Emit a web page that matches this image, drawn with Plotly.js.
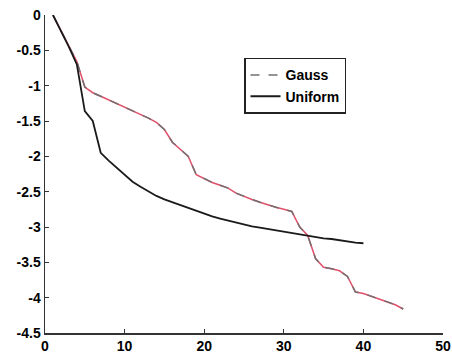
<!DOCTYPE html>
<html><head><meta charset="utf-8">
<script src="https://cdn.plot.ly/plotly-3.0.1.min.js"></script>
<style>body{margin:0;background:#fff}#c{width:452px;height:353px}</style>
</head><body><div id="c"></div>
<script>
const gaussX = [1,2,3,4,5,6,7,8,9,10,11,12,13,14,15,16,17,18,19,20,21,22,23,24,25,26,27,28,29,30,31,32,33,34,35,36,37,38,39,40,41,42,43,44,45];
const gaussY = [0,-0.22,-0.45,-0.66,-1.02,-1.10,-1.15,-1.20,-1.25,-1.30,-1.36,-1.41,-1.46,-1.52,-1.62,-1.80,-1.90,-2.00,-2.26,-2.32,-2.37,-2.41,-2.45,-2.52,-2.57,-2.61,-2.65,-2.69,-2.72,-2.75,-2.78,-3.00,-3.12,-3.45,-3.57,-3.59,-3.62,-3.70,-3.92,-3.94,-3.98,-4.02,-4.05,-4.10,-4.16];
const uniformX = [1,2,3,4,5,6,7,8,9,10,11,12,13,14,15,16,17,18,19,20,21,22,23,24,25,26,27,28,29,30,31,32,33,34,35,36,37,38,39,40];
const uniformY = [0,-0.22,-0.45,-0.70,-1.36,-1.50,-1.95,-2.06,-2.16,-2.26,-2.36,-2.43,-2.50,-2.56,-2.61,-2.65,-2.70,-2.74,-2.78,-2.81,-2.85,-2.88,-2.91,-2.94,-2.96,-2.99,-3.01,-3.03,-3.05,-3.07,-3.09,-3.11,-3.13,-3.15,-3.16,-3.17,-3.19,-3.20,-3.22,-3.23];
const xTicks = [0,10,20,30,40,50];
const yTicks = [0,-0.5,-1,-1.5,-2,-2.5,-3,-3.5,-4,-4.5];
const seriesNames = ['Gauss','Uniform'];

const traces = [
  {x: gaussX, y: gaussY, mode:'lines', line:{color:'#e0506a', width:1.5}, showlegend:false, hoverinfo:'skip'},
  {x: gaussX, y: gaussY, mode:'lines', name:'<b>'+seriesNames[0]+'</b>', line:{color:'#707070', width:1.5, dash:'dash'}},
  {x: uniformX, y: uniformY, mode:'lines', name:'<b>'+seriesNames[1]+'</b>', line:{color:'#1a1a1a', width:1.8}}
];
const tf = {family:'Liberation Sans, Arial, sans-serif', size:14, color:'#000', weight:700};
const layout = {
  width:452, height:353,
  margin:{l:45, r:9, t:15, b:20},
  paper_bgcolor:'#fff', plot_bgcolor:'#fff',
  xaxis:{range:[0,50], tickvals:xTicks, ticktext:xTicks.map(v=>'<b>'+v+'</b>'), ticks:'inside', ticklen:4, tickcolor:'#333',
    showline:true, linecolor:'#333', linewidth:1.5, mirror:false, showgrid:false, zeroline:false, tickfont:tf,
    ticklabeloverflow:'allow'},
  yaxis:{range:[-4.5,0], tickvals:yTicks, ticktext:yTicks.map(v=>'<b>'+v+'</b>'), ticks:'inside', ticklen:4, tickcolor:'#333',
    showline:true, linecolor:'#333', linewidth:1.5, mirror:false, showgrid:false, zeroline:false, tickfont:tf,
    ticklabeloverflow:'allow'},
  legend:{x:0.5, y:0.865, xanchor:'left', yanchor:'top', bordercolor:'#222', borderwidth:1.5, bgcolor:'#fff',
    font:{family:'Liberation Sans, Arial, sans-serif', size:14, color:'#000'}, tracegroupgap:0}
};
Plotly.newPlot('c', traces, layout, {staticPlot:true});
</script></body></html>
